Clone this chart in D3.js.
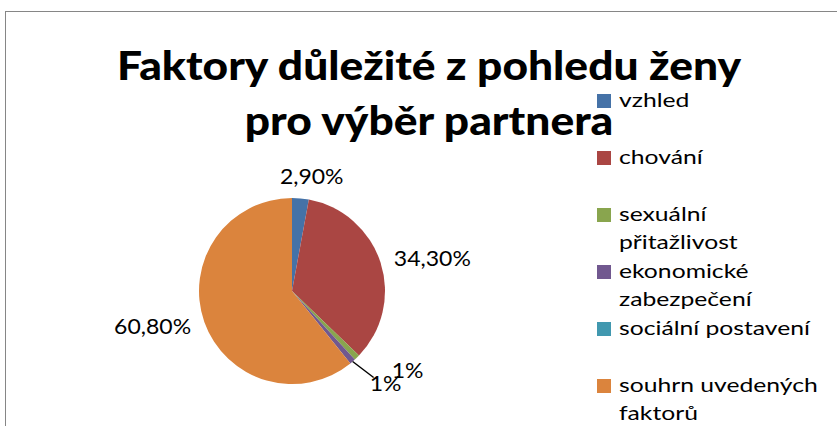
<!DOCTYPE html>
<html><head><meta charset="utf-8">
<script src="https://cdn.jsdelivr.net/npm/d3@7"></script>
<style>html,body{margin:0;padding:0;background:#fff;overflow:hidden}</style>
</head><body>
<svg id="chart" width="837" height="426"></svg>
<script>
// ---- data ----
const titleLines = ["Faktory důležité z pohledu ženy", "pro výběr partnera"];
const categories = ["vzhled", "chování", "sexuální přitažlivost", "ekonomické zabezpečení", "sociální postavení", "souhrn uvedených faktorů"];
const values = [2.9, 34.3, 1, 1, 0, 60.8];
const valueLabels = ["2,90%", "34,30%", "1%", "1%", "", "60,80%"];
const colors = ["#4572A7", "#AA4643", "#89A54E", "#71588F", "#4198AF", "#DB843D"];

// ---- layout (styles / positions, not data) ----
const cx = 292, cy = 291, R = 93;
const labelNudge = [[10, 0], [0, 0], [25, 3], [8, 11], [0, 0], [0, 0]];
const FONT = "Lato, 'Open Sans', sans-serif";

const svg = d3.select("#chart");

function stretch(sel, k) {
  sel.each(function () {
    const w = this.getComputedTextLength();
    d3.select(this).attr("textLength", w * k).attr("lengthAdjust", "spacingAndGlyphs");
  });
}
function measure(txt, size, weight) {
  const t = svg.append("text").attr("font-family", FONT).attr("font-size", size).attr("font-weight", weight).text(txt);
  const w = t.node().getComputedTextLength(); t.remove(); return w;
}

// border
svg.append("rect").attr("x", 5.5).attr("y", 11.5).attr("width", 900).attr("height", 600)
  .attr("fill", "none").attr("stroke", "#868686").attr("stroke-width", 1);

// title
const titleSize = 40;
const titleWeight = 900;
const kT = 624 / measure(titleLines[0], titleSize, titleWeight);
const title = svg.append("g").selectAll("text").data(titleLines).join("text")
  .attr("x", 429).attr("y", (d, i) => 80 + i * 55)
  .attr("text-anchor", "middle").attr("font-family", FONT).attr("font-weight", titleWeight)
  .attr("font-size", titleSize).attr("fill", "#000").text(d => d);
stretch(title, kT);

// pie
const pie = d3.pie().sort(null).value(d => d).startAngle(0).endAngle(2 * Math.PI);
const arcs = pie(values);
const arc = d3.arc().innerRadius(0).outerRadius(R);
const g = svg.append("g").attr("transform", `translate(${cx},${cy})`);
g.selectAll("path").data(arcs).join("path")
  .attr("d", arc).attr("fill", (d, i) => colors[i]);

// data labels
const labSize = 21.5;
const kD = 77 / measure("34,30%", labSize, "normal");
const labG = svg.append("g");
arcs.forEach((a, i) => {
  if (!valueLabels[i]) return;
  const mid = (a.startAngle + a.endAngle) / 2;
  const s = Math.sin(mid), c = -Math.cos(mid);
  const rr = R + 14;
  let x = cx + s * rr + labelNudge[i][0], y = cy + c * rr + labelNudge[i][1];
  let anchor = "middle", dy = "0.35em";
  if (s > 0.5) anchor = "start";
  else if (s < -0.5) anchor = "end";
  else dy = c < 0 ? "0" : "0.75em";
  const t = labG.append("text").attr("x", x).attr("y", y).attr("dy", dy)
    .attr("text-anchor", anchor).attr("font-family", FONT).attr("font-size", labSize)
    .attr("fill", "#000").text(valueLabels[i]);
  stretch(t, kD);
  if (i === 3) {
    labG.append("line").attr("x1", cx + s * R).attr("y1", cy + c * R)
      .attr("x2", cx + s * R + 21).attr("y2", cy + c * R + 16)
      .attr("stroke", "#000").attr("stroke-width", 1.5);
  }
});

// legend
const legSize = 20;
const kL = 191 / measure("sociální postavení", legSize, "normal");
const maxW = 205;
function wrap(txt) {
  const words = txt.split(" "), lines = [];
  let cur = "";
  words.forEach(w => {
    const test = cur ? cur + " " + w : w;
    if (cur && measure(test, legSize, "normal") * kL > maxW) { lines.push(cur); cur = w; }
    else cur = test;
  });
  lines.push(cur);
  return lines;
}
const leg = svg.append("g");
categories.forEach((cat, i) => {
  const y0 = 94 + i * 57;
  leg.append("rect").attr("x", 597).attr("y", y0).attr("width", 14).attr("height", 14).attr("fill", colors[i]);
  wrap(cat).forEach((ln, j) => {
    const t = leg.append("text").attr("x", 619).attr("y", y0 + 13 + j * 28)
      .attr("font-family", FONT).attr("font-size", legSize).attr("fill", "#000").text(ln);
    stretch(t, kL);
  });
});
</script>
</body></html>
